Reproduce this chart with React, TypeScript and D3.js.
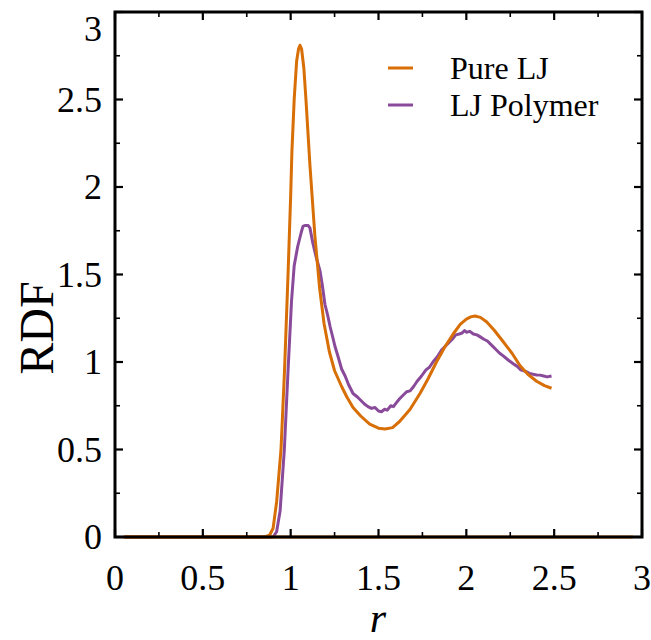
import React from "react";
import * as d3 from "d3";

const pureR = [0.05, 0.6, 0.85, 0.88, 0.9, 0.92, 0.945, 0.965, 0.985, 1.0, 1.007, 1.02, 1.034, 1.045, 1.053, 1.062, 1.075, 1.087, 1.11, 1.138, 1.165, 1.19, 1.22, 1.25, 1.29, 1.32, 1.355, 1.4, 1.45, 1.5, 1.537, 1.58, 1.62, 1.68, 1.736, 1.78, 1.83, 1.88, 1.925, 1.965, 2.0, 2.025, 2.049, 2.08, 2.115, 2.16, 2.21, 2.26, 2.305, 2.35, 2.4, 2.445, 2.485];
const pureG = [0, 0, 0, 0.01, 0.05, 0.2, 0.5, 0.95, 1.5, 1.95, 2.2, 2.5, 2.72, 2.79, 2.81, 2.79, 2.68, 2.5, 2.12, 1.72, 1.42, 1.22, 1.06, 0.95, 0.86, 0.8, 0.74, 0.69, 0.645, 0.622, 0.617, 0.625, 0.66, 0.73, 0.82, 0.9, 1.0, 1.09, 1.16, 1.215, 1.245, 1.258, 1.263, 1.255, 1.23, 1.18, 1.116, 1.05, 0.98, 0.93, 0.89, 0.865, 0.85];

const polyR = [0.05, 0.6, 0.88, 0.9, 0.92, 0.94, 0.964, 0.985, 1.005, 1.02, 1.04, 1.06, 1.07, 1.08, 1.1, 1.11, 1.126, 1.145, 1.167, 1.18, 1.195, 1.21, 1.225, 1.24, 1.252, 1.27, 1.29, 1.31, 1.33, 1.355, 1.38, 1.4, 1.42, 1.44, 1.46, 1.48, 1.5, 1.517, 1.535, 1.55, 1.57, 1.585, 1.6, 1.62, 1.64, 1.66, 1.68, 1.7, 1.72, 1.745, 1.77, 1.79, 1.81, 1.835, 1.86, 1.88, 1.9, 1.92, 1.94, 1.96, 1.975, 1.99, 2.0, 2.02, 2.04, 2.06, 2.077, 2.1, 2.12, 2.145, 2.17, 2.19, 2.21, 2.24, 2.267, 2.29, 2.31, 2.34, 2.36, 2.38, 2.4, 2.42, 2.44, 2.46, 2.485];
const polyG = [0, 0, 0, 0.0, 0.03, 0.15, 0.5, 0.95, 1.35, 1.55, 1.66, 1.74, 1.775, 1.78, 1.78, 1.765, 1.68, 1.6, 1.52, 1.44, 1.33, 1.27, 1.2, 1.14, 1.09, 1.03, 0.96, 0.92, 0.87, 0.82, 0.8, 0.78, 0.76, 0.745, 0.735, 0.74, 0.72, 0.716, 0.73, 0.725, 0.75, 0.745, 0.765, 0.79, 0.81, 0.83, 0.835, 0.86, 0.89, 0.92, 0.955, 0.97, 1.0, 1.03, 1.07, 1.09, 1.11, 1.13, 1.155, 1.16, 1.165, 1.18, 1.17, 1.175, 1.16, 1.155, 1.145, 1.13, 1.12, 1.095, 1.07, 1.05, 1.035, 1.01, 0.99, 0.975, 0.955, 0.945, 0.935, 0.93, 0.926, 0.925, 0.92, 0.915, 0.92];

const baseR = [0.05, 2.95];
const baseG = [0, 0];

const majorTicks = [0, 0.5, 1, 1.5, 2, 2.5, 3];
const minorTicks = [0.25, 0.75, 1.25, 1.75, 2.25, 2.75];
const tickLabels = ["0", "0.5", "1", "1.5", "2", "2.5", "3"];

const seriesNames = ["Pure LJ", "LJ Polymer"];
const seriesColors = ["#d86e06", "#8a4a9a"];

export default function App() {
  const W = 651, H = 640;
  const left = 115, right = 642, top = 12, bottom = 537;
  const x = d3.scaleLinear().domain([0, 3]).range([left, right]);
  const y = d3.scaleLinear().domain([0, 3]).range([bottom, top]);
  const line = d3.line<[number, number]>().x(d => x(d[0])).y(d => y(d[1])).curve(d3.curveLinear);
  const pts = (rs: number[], gs: number[]) => rs.map((r, i) => [r, gs[i]] as [number, number]);
  const font = "'Liberation Serif', 'Times New Roman', serif";
  const majLen = 8, minLen = 5;
  return (
    <svg width={W} height={H} style={{ position: "absolute", left: 0, top: 0, background: "#fff" }}>
      <rect x={0} y={0} width={W} height={H} fill="#fff" />
      <path d={line(pts(polyR, polyG))!} fill="none" stroke={seriesColors[1]} strokeWidth={3} strokeLinejoin="round" />
      <path d={line(pts(pureR, pureG))!} fill="none" stroke={seriesColors[0]} strokeWidth={3} strokeLinejoin="round" />
      <path d={line(pts(baseR, baseG))!} fill="none" stroke={seriesColors[0]} strokeWidth={3} />
      {majorTicks.map(t => (
        <g key={"M" + t} stroke="#000" strokeWidth={2.2}>
          <line x1={x(t)} x2={x(t)} y1={bottom} y2={bottom - majLen} />
          <line x1={x(t)} x2={x(t)} y1={top} y2={top + majLen} />
          <line x1={left} x2={left + majLen} y1={y(t)} y2={y(t)} />
          <line x1={right} x2={right - majLen} y1={y(t)} y2={y(t)} />
        </g>
      ))}
      {minorTicks.map(t => (
        <g key={"m" + t} stroke="#000" strokeWidth={1.6}>
          <line x1={x(t)} x2={x(t)} y1={bottom} y2={bottom - minLen} />
          <line x1={x(t)} x2={x(t)} y1={top} y2={top + minLen} />
          <line x1={left} x2={left + minLen} y1={y(t)} y2={y(t)} />
          <line x1={right} x2={right - minLen} y1={y(t)} y2={y(t)} />
        </g>
      ))}
      <rect x={left} y={top} width={right - left} height={bottom - top} fill="none" stroke="#000" strokeWidth={3} />
      {majorTicks.map((t, i) => (
        <text key={"xl" + t} x={x(t)} y={bottom + 53} textAnchor="middle" fontFamily={font} fontSize={36}>{tickLabels[i]}</text>
      ))}
      {majorTicks.map((t, i) => (
        <text key={"yl" + t} x={left - 13} y={Math.max(y(t) + 12, 41)} textAnchor="end" fontFamily={font} fontSize={36}>{tickLabels[i]}</text>
      ))}
      <text x={378} y={632} textAnchor="middle" fontFamily={font} fontSize={42} fontStyle="italic">r</text>
      <text transform={`translate(53, 328) rotate(-90)`} textAnchor="middle" fontFamily={font} fontSize={48}>RDF</text>
      {seriesNames.map((n, i) => (
        <g key={n}>
          <line x1={388} x2={413} y1={68 + i * 37} y2={68 + i * 37} stroke={seriesColors[i]} strokeWidth={3} />
          <text x={450} y={79 + i * 37} fontFamily={font} fontSize={32}>{n}</text>
        </g>
      ))}
    </svg>
  );
}
